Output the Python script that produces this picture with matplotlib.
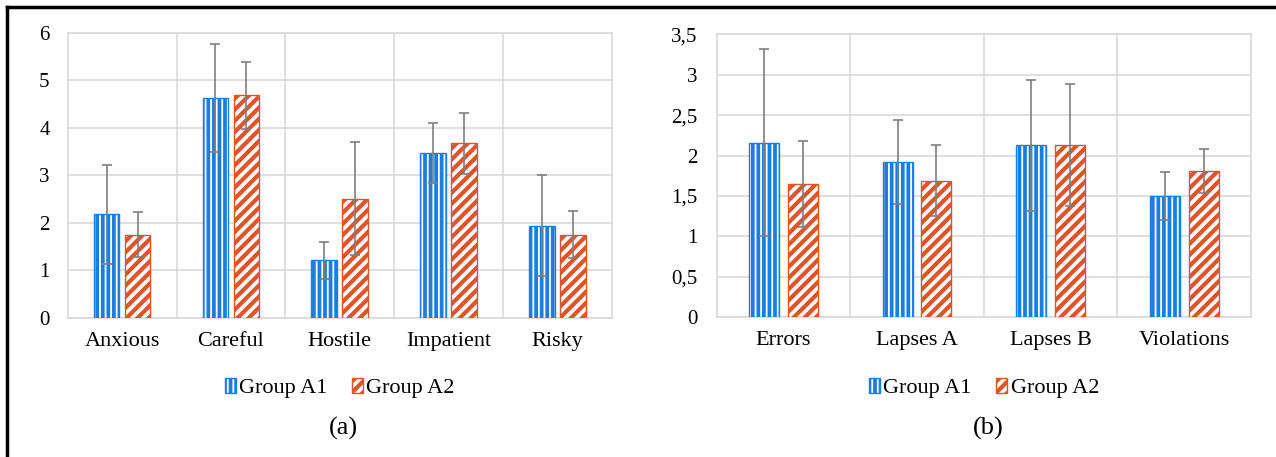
import matplotlib
matplotlib.use("Agg")
import matplotlib.pyplot as plt
import numpy as np

# ---- data ----
cats_a = ["Anxious", "Careful", "Hostile", "Impatient", "Risky"]
a1_mean = [2.18, 4.62, 1.21, 3.47, 1.94]
a1_sd = [1.04, 1.14, 0.39, 0.63, 1.06]
a2_mean = [1.75, 4.68, 2.50, 3.67, 1.75]
a2_sd = [0.47, 0.70, 1.19, 0.64, 0.50]

cats_b = ["Errors", "Lapses A", "Lapses B", "Violations"]
b1_mean = [2.16, 1.92, 2.13, 1.50]
b1_sd = [1.16, 0.52, 0.81, 0.30]
b2_mean = [1.65, 1.69, 2.13, 1.81]
b2_sd = [0.53, 0.44, 0.75, 0.27]

yticks_a = [0, 1, 2, 3, 4, 5, 6]
ytick_labels_a = ["0", "1", "2", "3", "4", "5", "6"]
yticks_b = [0, 0.5, 1, 1.5, 2, 2.5, 3, 3.5]
ytick_labels_b = ["0", "0,5", "1", "1,5", "2", "2,5", "3", "3,5"]

series_names = ["Group A1", "Group A2"]

BLUE = "#1a7ee0"
ORANGE = "#e0542a"
GRID = "#d9d9d9"
ERR = "#7f7f7f"
HLW_BLUE = 2.7
HLW_ORANGE = 3.0

plt.rcParams["font.family"] = ["Liberation Serif", "DejaVu Serif"]

W, H = 1276, 457
fig = plt.figure(figsize=(W / 100, H / 100), dpi=100)


def px_axes(left, top, right, bottom):
    return fig.add_axes([left / W, 1 - bottom / H, (right - left) / W, (bottom - top) / H])


def set_hlw(patches, lw):
    for p in patches:
        if hasattr(p, "set_hatch_linewidth"):
            p.set_hatch_linewidth(lw)


def draw(ax, cats, m1, s1, m2, s2, yticks, ylabels, ymax, width, off, ypad):
    x = np.arange(len(cats))
    b1 = ax.bar(x - off, m1, width, facecolor="white", edgecolor=BLUE, hatch="|||",
                linewidth=1.0, zorder=3, label=series_names[0])
    b2 = ax.bar(x + off, m2, width, facecolor="white", edgecolor=ORANGE, hatch="///",
                linewidth=1.0, zorder=3, label=series_names[1])
    set_hlw(b1.patches, HLW_BLUE)
    set_hlw(b2.patches, HLW_ORANGE)
    ax.errorbar(x - off, m1, yerr=s1, fmt="none", ecolor=ERR, elinewidth=1.2,
                capsize=3.3, capthick=1.2, zorder=4)
    ax.errorbar(x + off, m2, yerr=s2, fmt="none", ecolor=ERR, elinewidth=1.2,
                capsize=3.3, capthick=1.2, zorder=4)
    ax.set_xlim(-0.5, len(cats) - 0.5)
    ax.set_ylim(0, ymax)
    ax.set_yticks(yticks)
    ax.set_yticklabels(ylabels, fontsize=15)
    ax.set_xticks(x)
    ax.set_xticklabels(cats, fontsize=16)
    ax.set_xticks(np.arange(len(cats) - 1) + 0.5, minor=True)
    ax.tick_params(axis="both", which="both", length=0)
    ax.tick_params(axis="y", pad=ypad)
    ax.tick_params(axis="x", pad=10)
    ax.grid(True, axis="y", which="major", color=GRID, linewidth=1.2, zorder=0)
    ax.grid(True, axis="x", which="minor", color=GRID, linewidth=1.2, zorder=0)
    for s in ax.spines.values():
        s.set_color(GRID)
        s.set_linewidth(1.2)
    return b1, b2


ax1 = px_axes(67.7, 32.7, 611.7, 317.7)
h1 = draw(ax1, cats_a, a1_mean, a1_sd, a2_mean, a2_sd, yticks_a, ytick_labels_a, 6,
          0.236, 0.142, 13)
ax2 = px_axes(716.7, 34.3, 1251, 317.3)
h2 = draw(ax2, cats_b, b1_mean, b1_sd, b2_mean, b2_sd, yticks_b, ytick_labels_b, 3.5,
          0.225, 0.145, 14)

for ax, h, lab in [(ax1, h1, "(a)"), (ax2, h2, "(b)")]:
    pos = ax.get_position()
    cx = pos.x0 + pos.width / 2
    leg = fig.legend(h, series_names, loc="center", bbox_to_anchor=(cx, 1 - 388 / H),
                     ncol=2, frameon=False, fontsize=16, handlelength=0.5,
                     handleheight=0.65, handletextpad=0.15, columnspacing=1.1)
    lp = leg.get_patches()
    set_hlw(lp[:1], HLW_BLUE)
    set_hlw(lp[1:], HLW_ORANGE)
    fig.text(cx + 4 / W, 1 - 428 / H, lab, ha="center", va="center", fontsize=19)

# outer frame
fig.add_artist(plt.Line2D([7 / W, 1], [1 - 7 / H, 1 - 7 / H], color="black", linewidth=2.5,
                          transform=fig.transFigure))
fig.add_artist(plt.Line2D([7 / W, 7 / W], [0, 1 - 7 / H], color="black", linewidth=2.5,
                          transform=fig.transFigure))

fig.savefig("out.png", dpi=100)
